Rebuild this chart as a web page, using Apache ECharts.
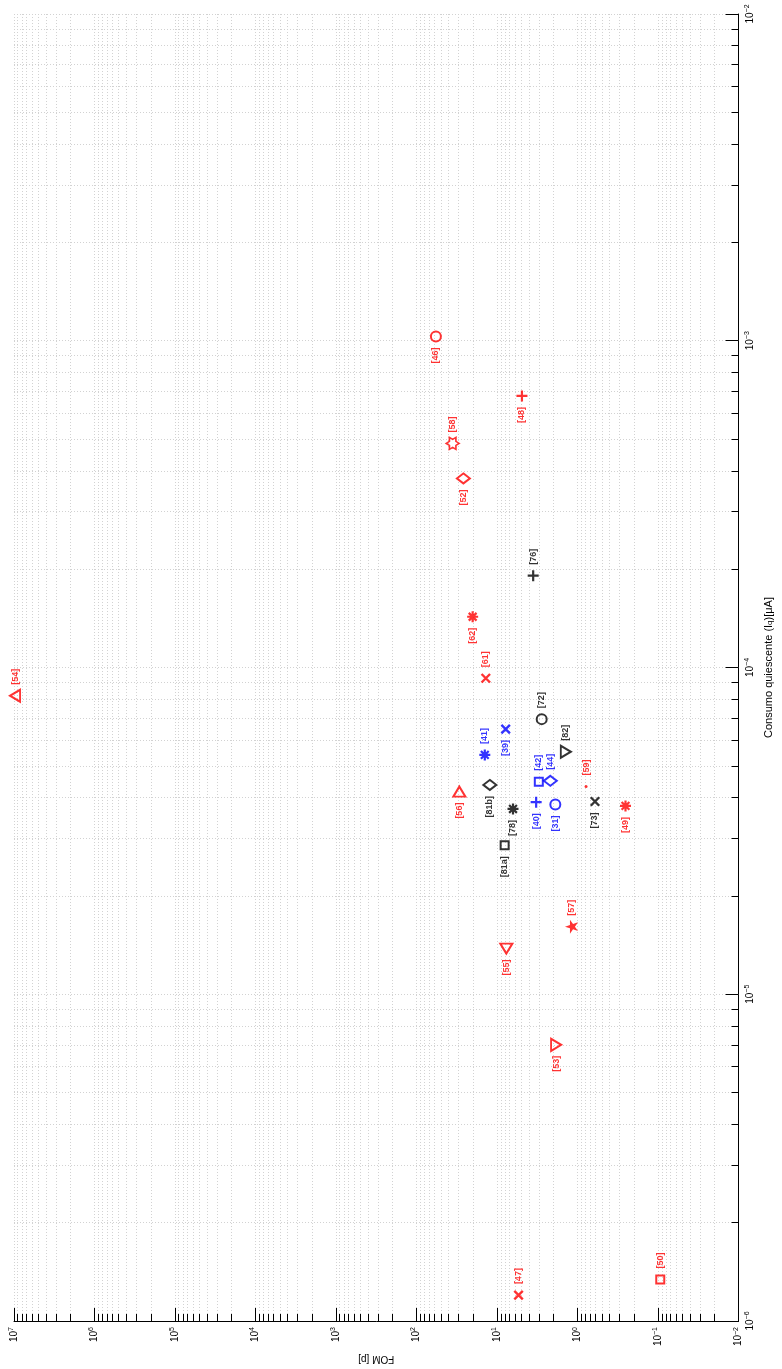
<!DOCTYPE html>
<html>
<head>
<meta charset="utf-8">
<title>FOM vs consumo quiescente</title>
<script src="https://cdn.jsdelivr.net/npm/echarts@6/dist/echarts.min.js"></script>
<style>
  html, body { margin: 0; padding: 0; background: #fff; }
  #chart { width: 782px; height: 1369px; }
</style>
</head>
<body>
<div id="chart"></div>
<script>
// data read off the (rotated) reference plot
// FOM [p] runs along the bottom, Iq [uA] along the right edge, both log scale
const refs = ['[54]', '[76]', '[46]', '[48]', '[58]', '[52]', '[62]', '[61]', '[72]', '[39]',
              '[41]', '[82]', '[42]', '[44]', '[59]', '[56]', '[81b]', '[40]', '[31]', '[73]',
              '[49]', '[78]', '[81a]', '[57]', '[55]', '[53]', '[47]', '[50]'];
const fom = [9.7e6, 3.56, 57.5, 4.91, 35.6, 26.2, 20.1, 13.8, 2.79, 7.82,
             14.2, 1.40, 3.03, 2.18, 0.785, 29.4, 12.3, 3.27, 1.89, 0.608,
             0.254, 6.34, 8.05, 1.19, 7.67, 1.85, 5.41, 0.094];
const iq = [8.2e-5, 1.91e-4, 1.03e-3, 6.78e-4, 4.85e-4, 3.79e-4, 1.43e-4, 9.27e-5, 6.95e-5, 6.48e-5,
            5.40e-5, 5.52e-5, 4.47e-5, 4.50e-5, 4.32e-5, 4.17e-5, 4.37e-5, 3.87e-5, 3.81e-5, 3.89e-5,
            3.77e-5, 3.69e-5, 2.86e-5, 1.61e-5, 1.38e-5, 7.0e-6, 1.20e-6, 1.34e-6];
// axis ranges, in decades
const fomDecades = [-2, 7];
const iqDecades = [-6, -2];

// ---- styles ----
const RED = '#ff0000', BLUE = '#0000ff', BLACK = '#000000';
// marker, colour, which side the tag sits on
const refStyle = {
  '[54]': ['triLeft', RED, 'up'],     '[76]': ['plus', BLACK, 'up'],
  '[46]': ['circle', RED, 'down'],    '[48]': ['plus', RED, 'down'],
  '[58]': ['hexagram', RED, 'up'],    '[52]': ['diamond', RED, 'down'],
  '[62]': ['asterisk', RED, 'down'],  '[61]': ['cross', RED, 'up'],
  '[72]': ['circle', BLACK, 'up'],    '[39]': ['cross', BLUE, 'down'],
  '[41]': ['asterisk', BLUE, 'up'],   '[82]': ['triRight', BLACK, 'up'],
  '[42]': ['square', BLUE, 'up'],     '[44]': ['diamond', BLUE, 'up'],
  '[59]': ['point', RED, 'up'],       '[56]': ['triUp', RED, 'down'],
  '[81b]': ['diamond', BLACK, 'down'],'[40]': ['plus', BLUE, 'down'],
  '[31]': ['circle', BLUE, 'down'],   '[73]': ['cross', BLACK, 'down'],
  '[49]': ['asterisk', RED, 'down'],  '[78]': ['asterisk', BLACK, 'down'],
  '[81a]': ['square', BLACK, 'down'], '[57]': ['pentagram', RED, 'up'],
  '[55]': ['triDown', RED, 'down'],   '[53]': ['triRight', RED, 'down'],
  '[47]': ['cross', RED, 'up'],       '[50]': ['square', RED, 'up']
};

const PLUS = 'path://M-1,-5L1,-5L1,5L-1,5ZM-5,-1L5,-1L5,1L-5,1Z';
const ASTERISK = 'path://M-1,-5L1,-5L1,5L-1,5ZM-5,-1L5,-1L5,1L-5,1Z' +
  'M4.24,2.83L2.83,4.24L-4.24,-2.83L-2.83,-4.24Z' +
  'M2.83,-4.24L4.24,-2.83L-2.83,4.24L-4.24,2.83Z';
const HEXAGRAM = 'path://M5,0L2.5,1.443L2.5,4.33L0,2.887L-2.5,4.33L-2.5,1.443L-5,0' +
  'L-2.5,-1.443L-2.5,-4.33L0,-2.887L2.5,-4.33L2.5,-1.443Z';
const PENTAGRAM = 'path://M-5,0L-1.545,-1.123L-1.545,-4.755L0.59,-1.816L4.045,-2.939L1.91,0' +
  'L4.045,2.939L0.59,1.816L-1.545,4.755L-1.545,1.123Z';

const markers = {
  circle:    { symbol: 'circle', size: 10 },
  square:    { symbol: 'rect', size: 8 },
  diamond:   { symbol: 'diamond', size: [13, 10] },
  triUp:     { symbol: 'triangle', size: [12, 10], rotate: 0 },
  triLeft:   { symbol: 'triangle', size: [12, 10], rotate: 90 },
  triDown:   { symbol: 'triangle', size: [12, 10], rotate: 180 },
  triRight:  { symbol: 'triangle', size: [12, 10], rotate: -90 },
  hexagram:  { symbol: HEXAGRAM, size: [13, 12], thin: true },
  plus:      { symbol: PLUS, size: 11, filled: true },
  cross:     { symbol: PLUS, size: 12, rotate: 45, filled: true },
  asterisk:  { symbol: ASTERISK, size: 11, filled: true },
  pentagram: { symbol: PENTAGRAM, size: [13, 14], filled: true },
  point:     { symbol: 'circle', size: 3, filled: true }
};

const font = 'Liberation Sans, Arial, Helvetica, sans-serif';

function powLabel(v) {
  return '{b|10}{s|' + String(Math.round(v)).replace('-', '\u2212') + '}';
}
const powRich = {
  b: { fontSize: 10, fontFamily: font, color: '#000' },
  s: { fontSize: 7, fontFamily: font, color: '#000', padding: [0, 0, 6, 0] }
};

function minorTicks(lo, hi) {
  const out = [];
  for (let n = lo; n < hi; n++) {
    for (let k = 2; k <= 9; k++) out.push(n + Math.log10(k));
  }
  return out;
}

const points = refs.map((r, i) => {
  const st = refStyle[r];
  const m = markers[st[0]];
  const col = st[1];
  const up = st[2] === 'up';
  let itemStyle;
  if (m.filled) itemStyle = { color: col };
  else itemStyle = { color: 'transparent', borderColor: col, borderWidth: m.thin ? 1.6 : 2 };
  return {
    name: r,
    value: [Math.log10(fom[i]), Math.log10(iq[i])],
    symbol: m.symbol,
    symbolSize: m.size,
    symbolRotate: m.rotate || 0,
    itemStyle: itemStyle,
    label: {
      show: true,
      formatter: r,
      position: 'inside',
      rotate: 90,
      align: up ? 'left' : 'right',
      verticalAlign: 'middle',
      offset: [up ? 11 : -11, 0],
      color: col,
      fontFamily: font,
      fontWeight: 'bold',
      fontSize: 9
    }
  };
});

const dots = { show: true, lineStyle: { color: '#d2d2d2', width: 1, type: [1, 2] } };

const chart = echarts.init(document.getElementById('chart'));
chart.setOption({
  backgroundColor: '#fff',
  animation: false,
  grid: { left: 14, right: 38, top: 14, bottom: 48 },
  xAxis: [
    {
      type: 'value', min: fomDecades[0], max: fomDecades[1], interval: 1,
      inverse: true, position: 'bottom',
      axisLine: { show: true, onZero: false, lineStyle: { color: '#000', width: 1 } },
      axisTick: { show: true, inside: true, length: 13, lineStyle: { color: '#000' } },
      axisLabel: { rotate: 90, margin: 6, formatter: powLabel, rich: powRich },
      splitLine: dots,
      name: 'FOM [p]', nameLocation: 'middle', nameRotate: 180, nameGap: 30,
      nameTextStyle: { fontFamily: font, fontSize: 10, color: '#000' }
    },
    {
      type: 'value', min: fomDecades[0], max: fomDecades[1],
      inverse: true, position: 'bottom',
      axisLine: { show: false, onZero: false },
      axisTick: { show: true, inside: true, length: 7, lineStyle: { color: '#000' },
                  customValues: minorTicks(fomDecades[0], fomDecades[1]) },
      axisLabel: { show: false },
      splitLine: dots
    }
  ],
  yAxis: [
    {
      type: 'value', min: iqDecades[0], max: iqDecades[1], interval: 1, position: 'right',
      axisLine: { show: true, onZero: false, lineStyle: { color: '#000', width: 1 } },
      axisTick: { show: true, inside: true, length: 13, lineStyle: { color: '#000' } },
      axisLabel: { rotate: 90, margin: 5, formatter: powLabel, rich: powRich },
      splitLine: dots,
      name: 'Consumo quiescente (I{sub|q})[\u03bcA]', nameLocation: 'middle', nameRotate: 90, nameGap: 24,
      nameTextStyle: {
        fontFamily: font, fontSize: 11, color: '#000',
        rich: { sub: { fontFamily: font, fontSize: 8, color: '#000', padding: [3, 0, 0, 0] } }
      }
    },
    {
      type: 'value', min: iqDecades[0], max: iqDecades[1], position: 'right',
      axisLine: { show: false, onZero: false },
      axisTick: { show: true, inside: true, length: 7, lineStyle: { color: '#000' },
                  customValues: minorTicks(iqDecades[0], iqDecades[1]) },
      axisLabel: { show: false },
      splitLine: dots
    }
  ],
  series: [{
    type: 'scatter',
    xAxisIndex: 0,
    yAxisIndex: 0,
    silent: true,
    emphasis: { disabled: true },
    data: points
  }]
});
</script>
</body>
</html>
